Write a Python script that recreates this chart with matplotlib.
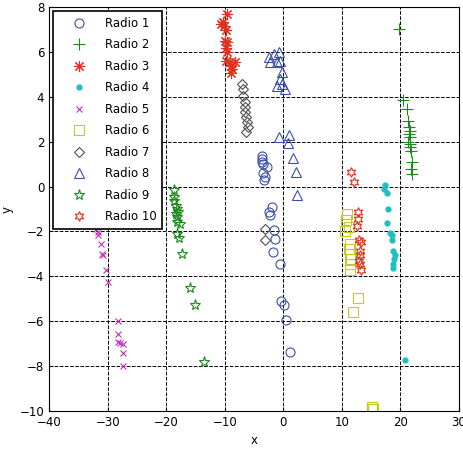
import matplotlib.pyplot as plt

# data
r1_x = [-3.6, -3.6, -3.6, -3.5, -2.8, -3.4, -3.1, -3.2, -1.9, -2.5, -2.3, -1.65, -1.36, -1.8, -0.6, -0.34, 0.06, 0.5, 1.2]
r1_y = [1.38, 1.23, 1.08, 1.01, 0.86, 0.59, 0.41, 0.3, -0.92, -1.14, -1.25, -1.93, -2.33, -2.93, -3.47, -5.08, -5.3, -5.97, -7.38]

r2_x = [19.8, 20.5, 21.2, 21.3, 21.5, 21.6, 21.5, 21.7, 21.3, 21.7, 21.6, 21.8, 22.0, 21.9, 22.0]
r2_y = [7.02, 3.86, 3.46, 2.94, 2.64, 2.49, 2.35, 2.23, 1.97, 1.9, 1.75, 1.6, 1.08, 0.79, 0.57]

r3_x = [-9.6, -10.3, -10.6, -10.1, -9.7, -9.9, -9.6, -9.7, -9.6, -9.7, -9.1, -8.3, -9.0, -8.7, -8.9]
r3_y = [7.69, 7.32, 7.25, 7.17, 6.98, 6.5, 6.43, 6.2, 5.98, 5.61, 5.54, 5.54, 5.39, 5.24, 5.05]

r4_x = [17.4, 17.2, 17.8, 17.9, 17.8, 18.3, 18.5, 18.5, 18.8, 19.1, 19.0, 18.8, 18.7, 20.8]
r4_y = [0.09, -0.1, -0.3, -1.0, -1.63, -2.08, -2.18, -2.38, -2.88, -3.07, -3.22, -3.44, -3.62, -7.75]

r5_x = [-32.0, -31.7, -31.6, -31.2, -30.9, -30.8, -30.2, -29.9, -28.3, -28.2, -28.3, -27.9, -27.3, -27.3, -27.3]
r5_y = [-1.89, -2.03, -2.18, -2.55, -3.0, -3.05, -3.71, -4.26, -6.01, -6.56, -6.93, -6.96, -7.01, -7.42, -8.02]

r6_x = [10.95, 10.7, 10.6, 11.3, 11.4, 11.3, 11.4, 11.5, 11.4, 11.4, 12.7, 12.0, 15.2, 15.3]
r6_y = [-1.22, -1.51, -1.96, -1.81, -2.55, -2.78, -3.0, -3.22, -3.44, -3.71, -4.96, -5.6, -9.83, -9.9]

r7_x = [-7.0, -6.9, -6.8, -6.6, -6.6, -6.5, -6.3, -6.2, -6.1, -6.3, -3.07, -3.07]
r7_y = [4.57, 4.35, 4.05, 3.76, 3.53, 3.31, 3.09, 2.86, 2.64, 2.42, -1.89, -2.4]

r8_x = [-2.5, -1.65, -0.8, -2.2, -1.07, -0.5, -0.2, -0.6, -1.07, -0.2, 0.34, -0.8, 1.07, 0.9, 1.65, 2.2, 2.3]
r8_y = [5.76, 5.9, 5.98, 5.54, 5.54, 5.61, 5.09, 4.8, 4.5, 4.57, 4.35, 2.23, 2.32, 1.93, 1.28, 0.64, -0.37]

r9_x = [-18.7, -18.7, -18.6, -18.4, -18.1, -17.9, -18.2, -18.4, -18.1, -17.7, -18.1, -17.8, -17.3, -16.0, -15.0, -13.6]
r9_y = [-0.15, -0.48, -0.62, -0.85, -0.99, -1.14, -1.37, -1.22, -1.59, -1.69, -2.11, -2.29, -3.0, -4.51, -5.3, -7.83]

r10_x = [11.6, 12.1, 12.7, 12.8, 12.6, 13.0, 13.3, 13.1, 13.2, 13.0, 13.1, 13.3]
r10_y = [0.64, 0.19, -1.14, -1.44, -1.74, -2.37, -2.47, -2.85, -3.07, -3.3, -3.44, -3.71]

blue = '#3a4fb0'
green = '#1a8a1a'
red = '#e0301e'
mw = 0.8

fig = plt.figure(figsize=(4.63, 4.5), dpi=100)
ax = fig.add_axes([0.106, 0.087, 0.885, 0.897])

ax.plot(r1_x, r1_y, 'o', ls='none', mfc='none', mec=blue, mew=mw, ms=6.5, label='Radio 1')
ax.plot(r2_x, r2_y, '+', ls='none', color=green, mew=mw, ms=8, label='Radio 2')
ax.plot(r3_x, r3_y, marker=(8, 2, 0), ls='none', color=red, mew=mw, ms=8, label='Radio 3')
ax.plot(r4_x, r4_y, '.', ls='none', color='#20bfbf', ms=7, label='Radio 4')
ax.plot(r5_x, r5_y, 'x', ls='none', color='#c030c0', mew=mw, ms=4.5, label='Radio 5')
ax.plot(r6_x, r6_y, 's', ls='none', mfc='none', mec='#c8c820', mew=mw, ms=7.5, label='Radio 6')
ax.plot(r7_x, r7_y, 'D', ls='none', mfc='none', mec='#505050', mew=mw, ms=5.5, label='Radio 7')
ax.plot(r8_x, r8_y, '^', ls='none', mfc='none', mec=blue, mew=mw, ms=7.5, label='Radio 8')
ax.plot(r9_x, r9_y, '*', ls='none', mfc='none', mec=green, mew=mw, ms=8, label='Radio 9')
ax.plot(r10_x, r10_y, marker=(6, 1, 0), ls='none', mfc='none', mec=red, mew=mw, ms=7, label='Radio 10')

ax.set_xlim(-40, 30)
ax.set_ylim(-10, 8)
ax.set_xticks(range(-40, 31, 10))
ax.set_yticks(range(-10, 9, 2))
ax.tick_params(direction='in', labelsize=8.5, length=3)
ax.grid(True, ls='--', color='black', lw=0.7)
ax.set_xlabel('x', fontsize=8.5, labelpad=4)
ax.set_ylabel('y', fontsize=8.5, labelpad=4)
for s in ax.spines.values():
    s.set_linewidth(0.8)

leg = ax.legend(loc='upper left', fontsize=8.5, fancybox=False, framealpha=1,
                edgecolor='black', borderaxespad=0.3, handlelength=3.5,
                handletextpad=0.4, labelspacing=0.72, borderpad=0.5)
leg.get_frame().set_linewidth(1.2)

fig.savefig('out.png')
